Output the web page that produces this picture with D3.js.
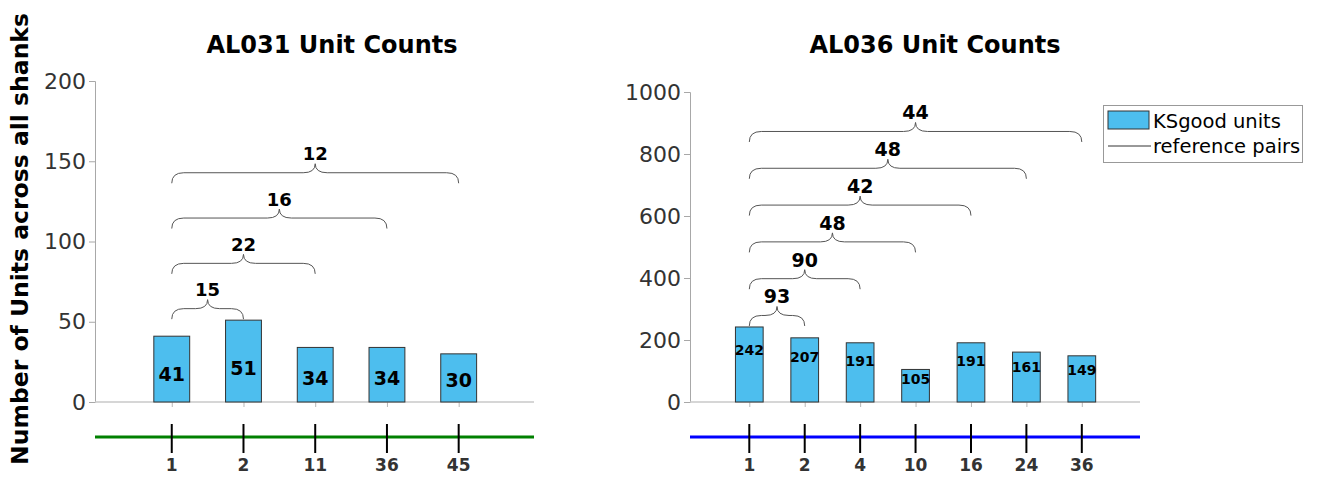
<!DOCTYPE html>
<html>
<head>
<meta charset="utf-8">
<script src="https://cdn.jsdelivr.net/npm/d3@7"></script>
<style>
  html, body { margin: 0; padding: 0; background: #fff; }
  svg { display: block; font-family: "DejaVu Sans", Verdana, sans-serif; }
</style>
</head>
<body>
<svg id="fig" width="1320" height="477"></svg>
<script>
// Session labels (days) for each animal
const al031Sessions = ["1", "2", "11", "36", "45"];
const al036Sessions = ["1", "2", "4", "10", "16", "24", "36"];

// KSgood unit counts per session
const al031Counts = [41, 51, 34, 34, 30];
const al036Counts = [242, 207, 191, 105, 191, 161, 149];

// Matched units between the first session and each later session
const al031PairCounts = [15, 22, 16, 12];
const al036PairCounts = [93, 90, 48, 42, 48, 44];

// Y-axis ticks
const al031YTicks = [0, 50, 100, 150, 200];
const al036YTicks = [0, 200, 400, 600, 800, 1000];

const titles = ["AL031 Unit Counts", "AL036 Unit Counts"];

const barFill = "#4dbeee";
const svg = d3.select("#fig");

const panels = [
  {
    title: titles[0], sessions: al031Sessions, counts: al031Counts, pairs: al031PairCounts,
    yTicks: al031YTicks, yMax: 200,
    left: 95, right: 534, top: 81, bottom: 402,
    titleX: 332, lineColor: "#008000",
    barFont: 19, pairFont: 18, braceStep: 45.3,
    labelFrac: 0.35, labelOff: 3
  },
  {
    title: titles[1], sessions: al036Sessions, counts: al036Counts, pairs: al036PairCounts,
    yTicks: al036YTicks, yMax: 1000,
    left: 690, right: 1140, top: 92, bottom: 402,
    titleX: 935, lineColor: "#0000ff",
    barFont: 14, pairFont: 19, braceStep: 36.8,
    labelFrac: 0.7, labelOff: 0
  }
];

panels.forEach(p => {
  const n = p.counts.length;
  const x = d3.scaleLinear().domain([-1.07, n - 1 + 1.05]).range([p.left, p.right]);
  const y = d3.scaleLinear().domain([0, p.yMax]).range([p.bottom, p.top]);
  const bw = (x(1) - x(0)) * 0.5;
  const g = svg.append("g");

  // title
  g.append("text")
    .attr("x", p.titleX).attr("y", 53)
    .attr("text-anchor", "middle")
    .attr("font-weight", "bold").attr("font-size", 24)
    .attr("fill", "#000")
    .text(p.title);

  // y axis
  const yAxis = d3.axisLeft(y).tickValues(p.yTicks).tickSize(6).tickPadding(3).tickFormat(d3.format("d"));
  const ya = g.append("g").attr("transform", `translate(${p.left},0)`).call(yAxis);
  ya.select(".domain").attr("stroke", "#a8a8a8");
  ya.selectAll(".tick line").attr("stroke", "#a8a8a8");
  ya.selectAll(".tick text").attr("font-size", 22).attr("fill", "#333")
    .attr("font-family", "DejaVu Sans, sans-serif");

  // x axis baseline with small ticks at bar centers
  const xAxis = d3.axisBottom(x).tickValues(d3.range(n)).tickSize(5).tickFormat("");
  const xa = g.append("g").attr("transform", `translate(0,${p.bottom})`).call(xAxis);
  xa.select(".domain").attr("stroke", "#c8c8c8").attr("stroke-width", 1.5)
    .attr("d", `M${p.left},0H${p.right}`);
  xa.selectAll(".tick line").attr("stroke", "#b8b8b8");

  // bars
  g.selectAll("rect.bar").data(p.counts).join("rect")
    .attr("class", "bar")
    .attr("x", (d, i) => x(i) - bw / 2)
    .attr("width", bw)
    .attr("y", d => y(d))
    .attr("height", d => y(0) - y(d))
    .attr("fill", barFill)
    .attr("stroke", "#333").attr("stroke-width", 1);

  // bar value labels
  g.selectAll("text.val").data(p.counts).join("text")
    .attr("class", "val")
    .attr("x", (d, i) => x(i))
    .attr("y", d => y(d * p.labelFrac + p.labelOff))
    .attr("dy", "0.36em")
    .attr("text-anchor", "middle")
    .attr("font-weight", "bold").attr("font-size", p.barFont)
    .attr("fill", "#000")
    .text(d => d);

  // curly braces linking session 1 to each later session
  const firstBottom = y(Math.max(p.counts[0], p.counts[1])) - 1;
  const h = 10.5, peak = 9, r = 12;
  p.pairs.forEach((v, k) => {
    const x1 = x(0), x2 = x(k + 1), xm = (x1 + x2) / 2;
    const yb = firstBottom - k * p.braceStep;
    const yh = yb - h, yp = yh - peak;
    const path = `M${x1},${yb} Q${x1},${yh} ${x1 + r},${yh} L${xm - r},${yh} Q${xm},${yh} ${xm},${yp}` +
                 ` Q${xm},${yh} ${xm + r},${yh} L${x2 - r},${yh} Q${x2},${yh} ${x2},${yb}`;
    g.append("path").attr("d", path).attr("fill", "none")
      .attr("stroke", "#555").attr("stroke-width", 1);
    g.append("text")
      .attr("x", xm).attr("y", yp - 10)
      .attr("dy", "0.36em")
      .attr("text-anchor", "middle")
      .attr("font-weight", "bold").attr("font-size", p.pairFont)
      .attr("fill", "#000")
      .text(v);
  });

  // session timeline below the axes
  const tl = g.append("g");
  tl.append("line")
    .attr("x1", p.left).attr("x2", p.right)
    .attr("y1", 437).attr("y2", 437)
    .attr("stroke", p.lineColor).attr("stroke-width", 3);
  tl.selectAll("line.tk").data(p.sessions).join("line")
    .attr("class", "tk")
    .attr("x1", (d, i) => x(i)).attr("x2", (d, i) => x(i))
    .attr("y1", 424).attr("y2", 453)
    .attr("stroke", "#000").attr("stroke-width", 2);
  tl.selectAll("text").data(p.sessions).join("text")
    .attr("x", (d, i) => x(i)).attr("y", 471)
    .attr("text-anchor", "middle")
    .attr("font-weight", "bold").attr("font-size", 17)
    .attr("fill", "#333")
    .text(d => d);
});

// shared y label
svg.append("text")
  .attr("transform", "translate(28,239) rotate(-90)")
  .attr("text-anchor", "middle")
  .attr("font-weight", "bold").attr("font-size", 23.5)
  .attr("fill", "#000")
  .text("Number of Units across all shanks");

// legend
const lg = svg.append("g");
lg.append("rect").attr("x", 1103.5).attr("y", 105.5).attr("width", 199).attr("height", 57)
  .attr("fill", "#fff").attr("stroke", "#999").attr("stroke-width", 1);
lg.append("rect").attr("x", 1108).attr("y", 111).attr("width", 41).attr("height", 18)
  .attr("fill", barFill).attr("stroke", "#333").attr("stroke-width", 1);
lg.append("text").attr("x", 1153).attr("y", 128).attr("font-size", 19.5).attr("fill", "#000")
  .text("KSgood units");
lg.append("line").attr("x1", 1108).attr("x2", 1151).attr("y1", 146).attr("y2", 146)
  .attr("stroke", "#333").attr("stroke-width", 1);
lg.append("text").attr("x", 1153).attr("y", 153).attr("font-size", 19.5).attr("fill", "#000")
  .text("reference pairs");
</script>
</body>
</html>
